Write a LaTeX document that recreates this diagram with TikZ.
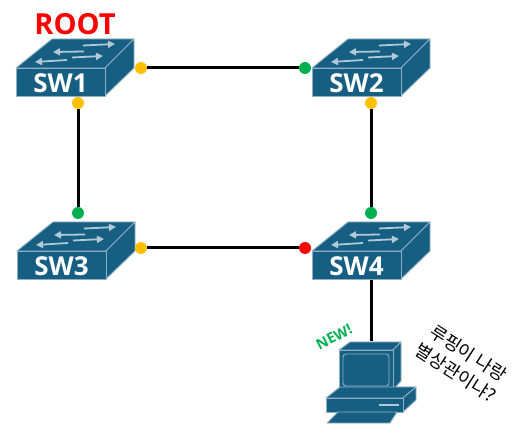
\documentclass[tikz,border=0pt]{standalone}
\usepackage{fontspec}
\setmainfont{Open Sans}
\newfontfamily\krfont{Noto Sans CJK KR}
\usetikzlibrary{arrows.meta}
\definecolor{cisco}{HTML}{175F82}
\definecolor{edgec}{HTML}{8FB0C4}
\definecolor{dotyellow}{HTML}{FFC000}
\definecolor{dotgreen}{HTML}{00B050}
\definecolor{dotred}{HTML}{FF0000}
\tikzset{
  x=1pt,y=-1pt,
  face/.style={fill=cisco,draw=edgec,line width=0.9pt,line join=round},
  arrowln/.style={draw=edgec!70!white,line width=1.8pt,-{Triangle[length=7pt,width=7pt]}},
  link/.style={line width=3pt,black},
  portdot/.style={circle,minimum size=12pt,inner sep=0pt},
  swlabel/.style={text=white,font=\bfseries\fontsize{26}{28}\selectfont,inner sep=0pt},
  swbody/.pic={
    \path[face] (0,29)--(36,0)--(118,0)--(89,29)--cycle;
    \path[face] (89,29)--(118,0)--(118,29)--(89,57)--cycle;
    \path[face] (0,29)--(89,29)--(89,57)--(0,57)--cycle;
    \draw[arrowln] (67,6.5)--(99,5);
    \draw[arrowln] (68,12.5)--(37,13);
    \draw[arrowln] (56,18.5)--(87,17);
    \draw[arrowln] (51,21)--(19,23);
  }
}
\begin{document}
\begin{tikzpicture}
\useasboundingbox (0,0) rectangle (525,438);
\pic at (16,39) {swbody};
\pic at (312,39) {swbody};
\pic at (17,222) {swbody};
\pic at (312,222) {swbody};
\node[swlabel] (sw1) at (60.5,83.5) {SW1};
\node[swlabel] (sw2) at (356.5,83.5) {SW2};
\node[swlabel] (sw3) at (61.5,266.5) {SW3};
\node[swlabel] (sw4) at (356.5,266.5) {SW4};
\node[text=dotred,font=\bfseries\fontsize{29}{31}\selectfont,inner sep=0pt] (root) at (75,24) {ROOT};
% PC
\path[face] (339,350)--(350,342)--(401,342)--(393,350)--cycle;
\path[face] (393,350)--(401,342)--(401,381)--(393,390)--cycle;
\path[face] (339,350) rectangle (393,390);
\draw[edgec,line width=0.9pt,rounded corners=3pt] (343,354) rectangle (389,386);
\path[face] (326,398)--(340,387)--(416,387)--(403,398)--cycle;
\path[face] (403,398)--(416,387)--(416,400)--(403,412)--cycle;
\path[face] (326,398) rectangle (403,412);
\draw[edgec!70!white,line width=1.5pt] (379,405)--(399,405);
\path[face] (327,423)--(338,412)--(397,412)--(390,423)--cycle;
\coordinate (pctop) at (371,341);
\coordinate (sw4bot) at (371,280);
\draw[link] (sw4bot)--(pctop);
\node[portdot,fill=dotyellow] (a1) at (141,68) {};
\node[portdot,fill=dotgreen] (a2) at (305,68) {};
\node[portdot,fill=dotyellow] (b1) at (78,103) {};
\node[portdot,fill=dotgreen] (b3) at (78,213) {};
\node[portdot,fill=dotyellow] (c2) at (371,103) {};
\node[portdot,fill=dotgreen] (c4) at (371,213) {};
\node[portdot,fill=dotyellow] (d3) at (141,248) {};
\node[portdot,fill=dotred] (d4) at (305,248) {};
\draw[link] (a1)--(a2);
\draw[link] (b1)--(b3);
\draw[link] (c2)--(c4);
\draw[link] (d3)--(d4);
\node[text=dotgreen,font=\bfseries\fontsize{14.5}{16}\selectfont,rotate=27,inner sep=0pt] (new) at (334,337) {NEW!};
\node[font=\krfont\fontsize{18}{23}\selectfont,rotate=-33,align=center,inner sep=0pt] (say) at (462,363) {루핑이 나랑\\별상관이냐?};
\end{tikzpicture}
\end{document}
